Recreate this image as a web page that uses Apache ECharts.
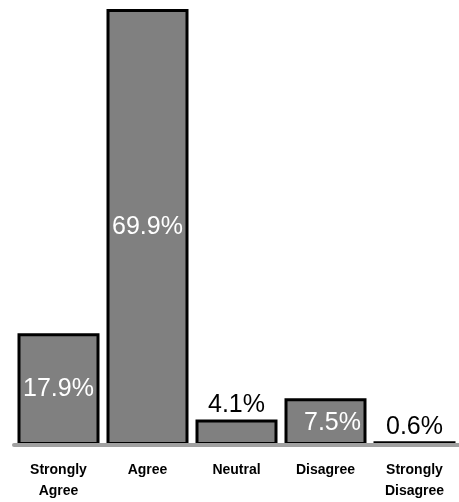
<!DOCTYPE html>
<html><head><meta charset="utf-8">
<script src="https://cdn.jsdelivr.net/npm/echarts@6/dist/echarts.min.js"></script>
<style>html,body{margin:0;padding:0;background:#fff}#c{width:459px;height:502px}</style>
</head><body><div id="c"></div>
<script>
const categories = ['Strongly\nAgree', 'Agree', 'Neutral', 'Disagree', 'Strongly\nDisagree'];
const values = [17.9, 69.9, 4.1, 7.5, 0.6];
const labelInside = [true, true, false, true, false];
const FONT = '"Liberation Sans Narrow", "Arial Narrow", "Liberation Sans", Arial, sans-serif';

const data = values.map((v, i) => ({
  value: v,
  label: labelInside[i]
    ? { position: 'inside', color: '#ffffff', offset: i === 3 ? [7, 1] : [0, 0] }
    : { position: 'top', color: '#000000', distance: 2 }
}));

const chart = echarts.init(document.getElementById('c'));
chart.setOption({
  animation: false,
  grid: { left: 14, right: -6, top: 9, bottom: 53, containLabel: false },
  xAxis: {
    type: 'category',
    data: categories,
    z: 10,
    axisLine: { show: true, lineStyle: { color: '#a0a0a0', width: 4, cap: 'round' } },
    axisTick: { show: false },
    axisLabel: {
      interval: 0, margin: 15, color: '#000', fontFamily: FONT,
      fontWeight: 'bold', fontSize: 14, lineHeight: 21
    }
  },
  yAxis: {
    type: 'value', min: 0, max: 69.9,
    show: false, splitLine: { show: false }
  },
  series: [{
    type: 'bar',
    data: data,
    barWidth: 82,
    itemStyle: { color: '#808080', borderColor: '#000', borderWidth: 3 },
    label: {
      show: true, fontFamily: FONT, fontSize: 25,
      formatter: p => p.value.toFixed(1) + '%'
    }
  }]
});
</script></body></html>
